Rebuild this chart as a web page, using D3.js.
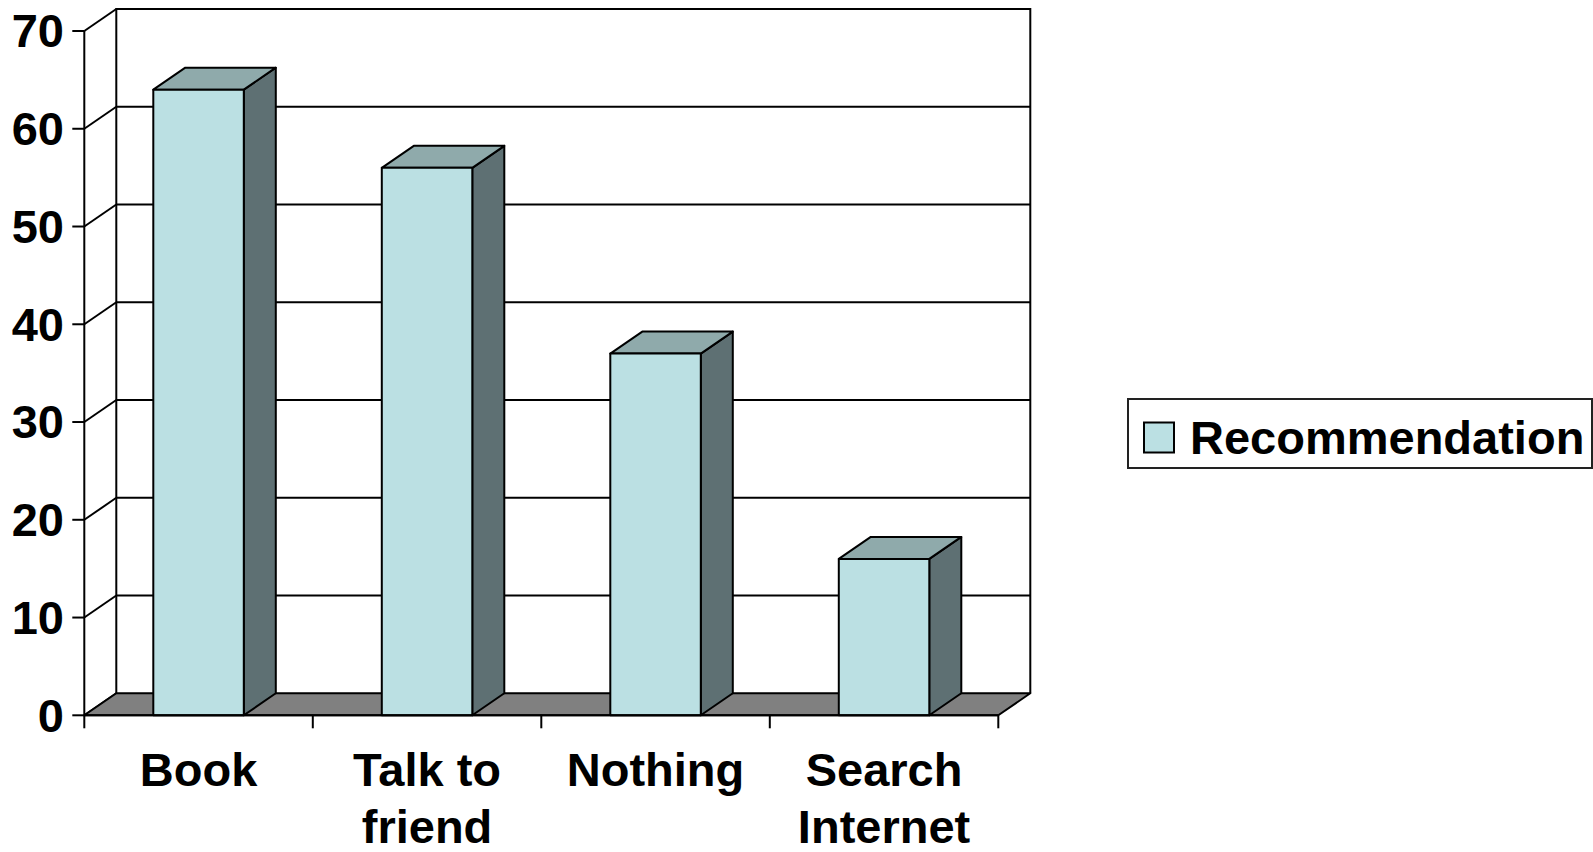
<!DOCTYPE html>
<html><head><meta charset="utf-8">
<script src="https://cdn.jsdelivr.net/npm/d3@7"></script>
<style>html,body{margin:0;padding:0;background:#fff;}svg{display:block;}</style>
</head><body>
<svg id="chart" width="1593" height="852"></svg>
<script>
const categories = [["Book"], ["Talk to", "friend"], ["Nothing"], ["Search", "Internet"]];
const values = [64, 56, 37, 16];
const yTicks = [0, 10, 20, 30, 40, 50, 60, 70];
const seriesName = "Recommendation";

const svg = d3.select("#chart");
const font = "'Liberation Sans', Arial, sans-serif";
const DX = 32, DY = -22;
const keys = categories.map(c => c.join(" "));
const x = d3.scaleBand().domain(keys).range([84.3, 998.3]).paddingInner(0).paddingOuter(0);
const y = d3.scaleLinear().domain([0, 70]).range([715.3, 31]);
const barW = 90.5;

const cFront = "#bbe0e3", cTop = "#8faaab", cSide = "#5e7073", cFloor = "#808080";

// back wall gridlines + left wall diagonals
const g = svg.append("g");
yTicks.forEach(t => {
  const yf = y(t), yb = y(t) + DY;
  if (t > 0) {
    g.append("line").attr("x1", x.range()[0] + DX).attr("x2", x.range()[1] + DX)
      .attr("y1", yb).attr("y2", yb).attr("stroke", "#000").attr("stroke-width", 2);
  }
  g.append("line").attr("x1", x.range()[0]).attr("y1", yf)
    .attr("x2", x.range()[0] + DX).attr("y2", yb).attr("stroke", "#000").attr("stroke-width", 2);
});
// back wall frame
const x0 = x.range()[0], x1 = x.range()[1];
g.append("path").attr("d", `M${x0 + DX},${y(0) + DY} V${y(70) + DY} H${x1 + DX} V${y(0) + DY}`)
  .attr("fill", "none").attr("stroke", "#000").attr("stroke-width", 2);
// floor
g.append("path").attr("d", `M${x0},${y(0)} L${x0 + DX},${y(0) + DY} L${x1 + DX},${y(0) + DY} L${x1},${y(0)} Z`)
  .attr("fill", cFloor).attr("stroke", "#000").attr("stroke-width", 2).attr("stroke-linejoin", "round");

// bars
values.forEach((v, i) => {
  const cx = x(keys[i]) + x.bandwidth() / 2;
  const L = cx - barW / 2, R = cx + barW / 2, T = y(v), B = y(0);
  const bg = svg.append("g").attr("stroke", "#000").attr("stroke-width", 2).attr("stroke-linejoin", "round");
  bg.append("path").attr("d", `M${R},${B} L${R + DX},${B + DY} L${R + DX},${T + DY} L${R},${T} Z`).attr("fill", cSide);
  bg.append("path").attr("d", `M${L},${T} L${L + DX},${T + DY} L${R + DX},${T + DY} L${R},${T} Z`).attr("fill", cTop);
  bg.append("rect").attr("x", L).attr("y", T).attr("width", barW).attr("height", B - T).attr("fill", cFront);
});

// y axis
const ya = svg.append("g");
ya.append("line").attr("x1", x0).attr("x2", x0).attr("y1", y(0) + 1).attr("y2", y(70))
  .attr("stroke", "#000").attr("stroke-width", 2);
yTicks.forEach(t => {
  ya.append("line").attr("x1", x0 - 12).attr("x2", x0).attr("y1", y(t)).attr("y2", y(t))
    .attr("stroke", "#000").attr("stroke-width", 2);
  ya.append("text").attr("x", 64).attr("y", y(t)).attr("dy", "0.35em")
    .attr("text-anchor", "end").attr("font-family", font).attr("font-weight", "bold")
    .attr("font-size", 47).attr("fill", "#000").text(t);
});

// x axis
const xa = svg.append("g");
xa.append("line").attr("x1", x0).attr("x2", x1).attr("y1", y(0)).attr("y2", y(0))
  .attr("stroke", "#000").attr("stroke-width", 2);
[x0, ...keys.map(k => x(k) + x.bandwidth())].forEach(px => {
  xa.append("line").attr("x1", px).attr("x2", px).attr("y1", y(0)).attr("y2", y(0) + 13)
    .attr("stroke", "#000").attr("stroke-width", 2);
});
categories.forEach((lines, i) => {
  const cx = x(keys[i]) + x.bandwidth() / 2;
  const t = xa.append("text").attr("text-anchor", "middle").attr("font-family", font)
    .attr("font-weight", "bold").attr("font-size", 47).attr("fill", "#000");
  lines.forEach((ln, j) => {
    t.append("tspan").attr("x", cx).attr("y", 786 + j * 57).text(ln);
  });
});

// legend
const lg = svg.append("g");
lg.append("rect").attr("x", 1128).attr("y", 399).attr("width", 464).attr("height", 69)
  .attr("fill", "#fff").attr("stroke", "#222").attr("stroke-width", 2);
lg.append("rect").attr("x", 1144).attr("y", 422.5).attr("width", 30).attr("height", 30)
  .attr("fill", cFront).attr("stroke", "#000").attr("stroke-width", 2);
lg.append("text").attr("x", 1190).attr("y", 454).attr("font-family", font).attr("font-weight", "bold")
  .attr("font-size", 47).attr("fill", "#000").text(seriesName);
</script>
</body></html>
